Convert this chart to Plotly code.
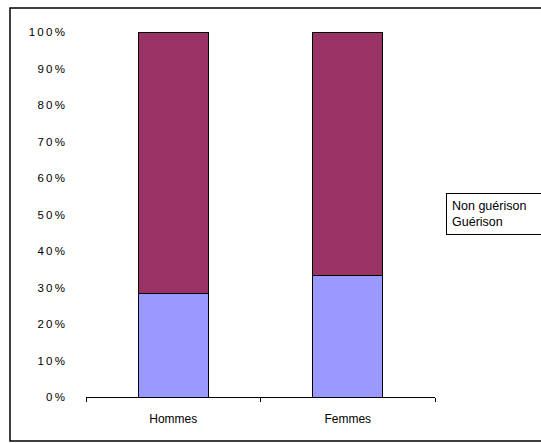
import plotly.graph_objects as go

categories = ["Hommes", "Femmes"]
guerison = [0.283, 0.332]
non_guerison = [0.717, 0.668]
series_names = ["Guérison", "Non guérison"]
y_ticks = [0, 0.1, 0.2, 0.3, 0.4, 0.5, 0.6, 0.7, 0.8, 0.9, 1.0]
y_ticktext = ["\u2009".join(f"{int(round(v*100))}") + "\u2009%" for v in y_ticks]

W, H = 541, 443
L, R, T, B = 86, 106, 32, 46
pw, ph = W - L - R, H - T - B

def px_x(x):
    return (x - L) / pw

def px_y(y):
    return (H - B - y) / ph

fig = go.Figure()
fig.add_trace(go.Bar(x=categories, y=guerison, name=series_names[0],
                     marker=dict(color="#9999FF", line=dict(color="#000000", width=1))))
fig.add_trace(go.Bar(x=categories, y=non_guerison, name=series_names[1],
                     marker=dict(color="#993366", line=dict(color="#000000", width=1))))

fig.update_layout(
    barmode="stack",
    bargap=0.6,
    width=W, height=H,
    margin=dict(l=L, r=R, t=T, b=B, pad=0),
    paper_bgcolor="white", plot_bgcolor="white",
    showlegend=False,
    font=dict(family="Liberation Sans, Arial, sans-serif", size=11, color="#000000"),
    xaxis=dict(showgrid=False, showline=True, linecolor="#000000", linewidth=1,
               ticks="outside", tickson="boundaries", ticklen=4, tickcolor="#000000",
               tickfont=dict(size=12), ticklabelstandoff=11, fixedrange=True),
    yaxis=dict(range=[0, 1], showgrid=False, showline=False, zeroline=False,
               tickvals=y_ticks, ticktext=y_ticktext, ticks="",
               ticklabelstandoff=20, tickfont=dict(size=11.5), fixedrange=True),
    shapes=[dict(type="rect", xref="paper", yref="paper",
                 x0=px_x(10), x1=px_x(548), y0=px_y(441), y1=px_y(8),
                 line=dict(color="#000000", width=1.5), layer="above")],
    annotations=[dict(xref="paper", yref="paper", x=px_x(445.5), y=px_y(213.5),
                      xanchor="left", yanchor="middle", align="left",
                      text=series_names[1] + "<br>" + series_names[0],
                      showarrow=False, width=110, bordercolor="#000000",
                      borderwidth=1, borderpad=5, bgcolor="white",
                      font=dict(size=12.5))],
)

fig.write_html("out.html")
